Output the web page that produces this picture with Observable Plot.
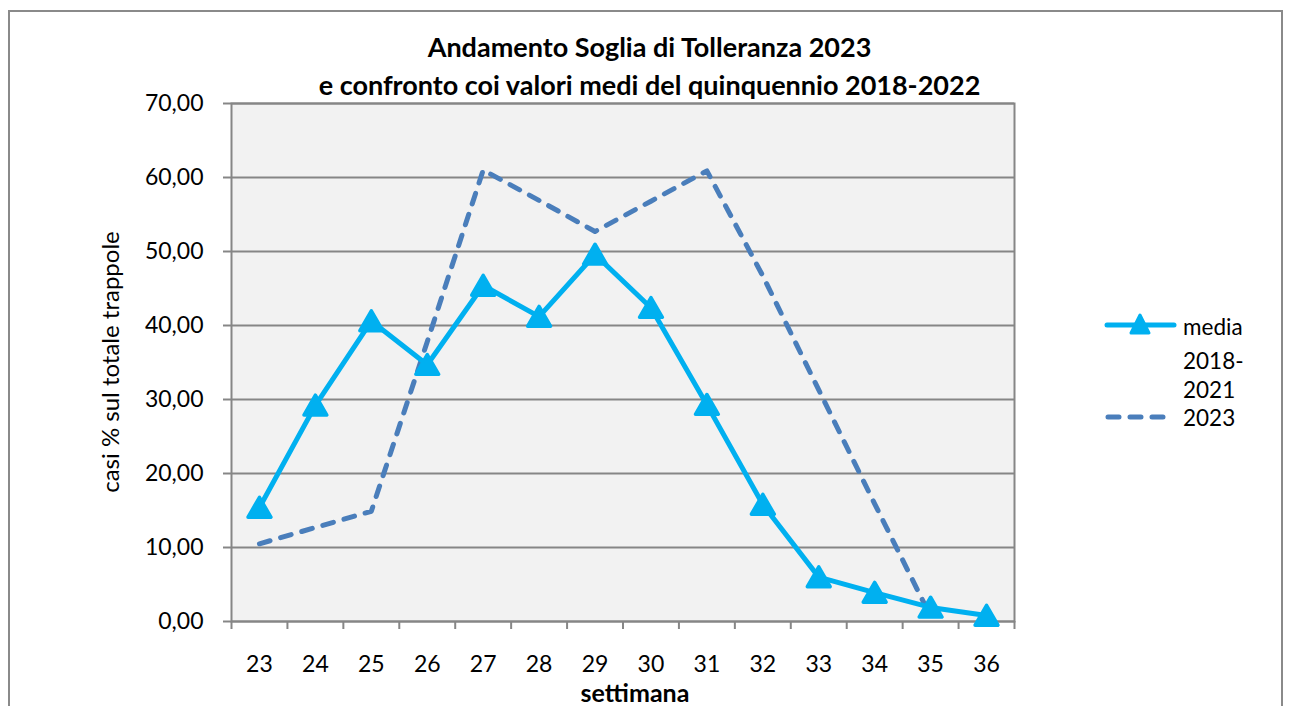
<!DOCTYPE html>
<html><head><meta charset="utf-8">
<script src="https://cdn.jsdelivr.net/npm/d3@7"></script>
<script src="https://cdn.jsdelivr.net/npm/@observablehq/plot@0.6"></script>
<style>
body{margin:0;background:#fff;}
#wrap{position:relative;width:1291px;height:706px;overflow:hidden;font-family:Lato,"Open Sans",sans-serif;color:#000;}
#frame{position:absolute;left:8px;top:10px;width:1275px;height:730px;border:2px solid #8a8a8a;box-sizing:border-box;}
#chart{position:absolute;left:0;top:0;}
.t{position:absolute;white-space:nowrap;}
#title{left:0;width:1299px;top:28px;text-align:center;font-weight:bold;font-size:27px;line-height:38px;}
#ylab{left:110px;top:362px;font-size:24px;line-height:28px;transform:translate(-50%,-50%) rotate(-90deg);}
#xlab{left:0;width:1270px;top:677px;text-align:center;font-weight:bold;font-size:25px;line-height:30px;}
#legend{position:absolute;left:1100px;top:300px;width:190px;height:140px;}
</style></head>
<body><div id="wrap">
<div id="frame"></div>
<div id="chart"></div>
<div id="title" class="t">Andamento Soglia di Tolleranza 2023<br>e confronto coi valori medi del quinquennio 2018-2022</div>
<div id="ylab" class="t">casi % sul totale trappole</div>
<div id="xlab" class="t">settimana</div>
<svg id="legend" width="190" height="140" font-family="Lato, 'Open Sans', sans-serif" font-size="22.5">
  <line x1="7" x2="74" y1="25" y2="25" stroke="#00b0f0" stroke-width="5" stroke-linecap="round"/>
  <path d="M40,15 L49,33 L31,33 Z" fill="#00b0f0" stroke="#00b0f0" stroke-width="3" stroke-linejoin="round"/>
  <text x="83" y="35">media</text>
  <text x="83" y="69">2018-</text>
  <text x="83" y="98">2021</text>
  <line x1="8" x2="74" y1="117" y2="117" stroke="#4a7ebb" stroke-width="5" stroke-dasharray="11,11" stroke-linecap="round"/>
  <text x="83" y="126">2023</text>
</svg>
</div>
<script>
const weeks = [23, 24, 25, 26, 27, 28, 29, 30, 31, 32, 33, 34, 35, 36];
const media = [15.4, 29.2, 40.6, 34.7, 45.4, 41.2, 49.6, 42.4, 29.3, 15.8, 6.0, 3.9, 1.9, 0.8];
const y2023 = [10.5, 12.7, 14.9, 37.8, 61.0, 56.9, 52.7, 56.8, 60.9, 46.7, 31.3, 15.9, 0.7, null];
const yTicks = [0, 10, 20, 30, 40, 50, 60, 70];

const data = weeks.map((w, i) => ({w, media: media[i], y23: y2023[i]}));
const edges = [weeks[0] - 0.5, ...weeks.map(w => w + 0.5)];
const fmt = d => d.toFixed(2).replace(".", ",");

const chart = Plot.plot({
  width: 1291, height: 706,
  marginLeft: 231, marginRight: 277, marginTop: 103, marginBottom: 85,
  style: {fontFamily: "Lato, 'Open Sans', sans-serif", fontSize: "23px", color: "#000", background: "transparent"},
  x: {type: "linear", domain: [22.5, 36.5]},
  y: {domain: [0, 70]},
  marks: [
    Plot.frame({fill: "#f2f2f2"}),
    Plot.gridY(yTicks, {stroke: "#868686", strokeOpacity: 1, strokeWidth: 2}),
    Plot.axisY(yTicks, {tickSize: 8, tickPadding: 20, tickFormat: fmt, label: null, stroke: "#868686", strokeWidth: 2, fill: "#000"}),
    Plot.axisX(edges, {tickSize: 8, tickFormat: () => "", label: null, stroke: "#868686", strokeWidth: 2}),
    Plot.axisX(weeks, {tickSize: 0, tickPadding: 34, label: null, fill: "#000", tickFormat: d => String(d)}),
    Plot.frame({stroke: "#868686", strokeWidth: 2}),
    Plot.line(data, {x: "w", y: "y23", stroke: "#4a7ebb", strokeWidth: 5, strokeDasharray: "11,11", strokeLinecap: "round"}),
    Plot.line(data, {x: "w", y: "media", stroke: "#00b0f0", strokeWidth: 5}),
    Plot.dot(data, {x: "w", y: "media", symbol: "triangle", r: 8.5, dy: 3, fill: "#00b0f0", stroke: "#00b0f0", strokeWidth: 3.5, strokeLinejoin: "round"})
  ]
});
document.getElementById("chart").appendChild(chart);
</script>
</body></html>
